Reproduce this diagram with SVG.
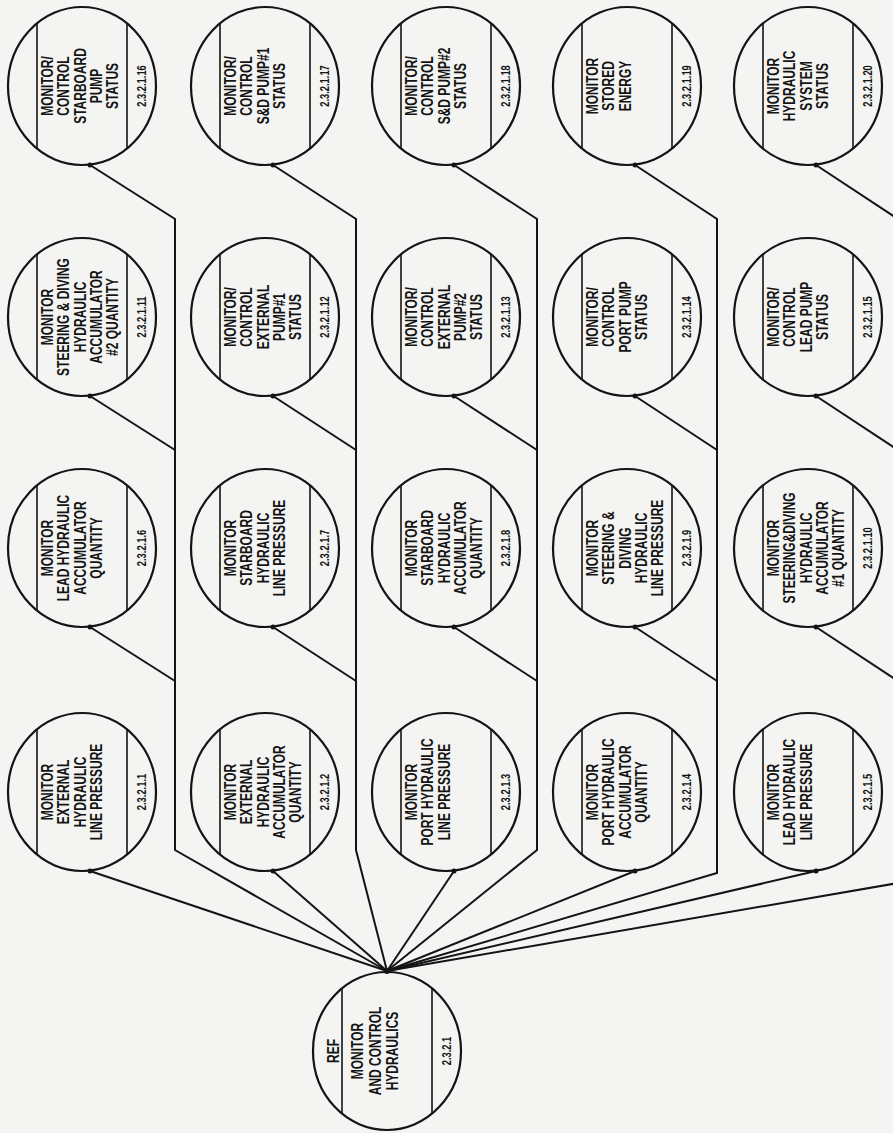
<svg xmlns="http://www.w3.org/2000/svg" width="893" height="1133" viewBox="0 0 893 1133">
<style>
.bg{fill:#f4f4f2}
.c{fill:none;stroke:#141414;stroke-width:2.2}
.ch{stroke:#141414;stroke-width:1.6}
.k{fill:none;stroke:#141414;stroke-width:2;stroke-linejoin:miter}
.d{fill:#141414}
.t{font-family:"Liberation Sans",Arial,sans-serif;font-weight:bold;font-size:16px;fill:#141414;text-anchor:middle}
.n{font-family:"Liberation Sans",Arial,sans-serif;font-weight:bold;font-size:12.5px;fill:#141414;text-anchor:middle}
</style>
<defs>
<g id="shape">
<ellipse rx="74" ry="79" class="c"/>
<line x1="-45" y1="-63" x2="-45" y2="63" class="ch"/>
<line x1="45" y1="-63" x2="45" y2="63" class="ch"/>
</g>
</defs>
<rect class="bg" x="0" y="0" width="893" height="1133"/>

<g id="connectors">
<!-- trunks with top-row branch -->
<path class="k" d="M90,165 L175,219 V850 L387,971"/>
<path class="k" d="M273,165 L356,219 V850 L387,971"/>
<path class="k" d="M454,165 L537,219 V850 L387,971"/>
<path class="k" d="M635,165 L717,219 V873 L387,971"/>
<path class="k" d="M816,165 L898,219 V883 L387,971"/>
<!-- row 3 branches -->
<path class="k" d="M90,396 L175,450"/>
<path class="k" d="M273,396 L356,450"/>
<path class="k" d="M454,396 L537,450"/>
<path class="k" d="M635,396 L717,450"/>
<path class="k" d="M816,396 L898,450"/>
<!-- row 2 branches -->
<path class="k" d="M90,627 L175,681"/>
<path class="k" d="M273,627 L356,681"/>
<path class="k" d="M454,627 L537,681"/>
<path class="k" d="M635,627 L717,681"/>
<path class="k" d="M816,627 L898,681"/>
<!-- row 1 direct -->
<path class="k" d="M90,871 L387,971"/>
<path class="k" d="M273,871 L387,971"/>
<path class="k" d="M454,871 L387,971"/>
<path class="k" d="M635,871 L387,971"/>
<path class="k" d="M816,871 L387,971"/>
<!-- junction dots -->
<circle class="d" cx="90" cy="165" r="2.5"/><circle class="d" cx="273" cy="165" r="2.5"/><circle class="d" cx="454" cy="165" r="2.5"/><circle class="d" cx="635" cy="165" r="2.5"/><circle class="d" cx="816" cy="165" r="2.5"/>
<circle class="d" cx="90" cy="396" r="2.5"/><circle class="d" cx="273" cy="396" r="2.5"/><circle class="d" cx="454" cy="396" r="2.5"/><circle class="d" cx="635" cy="396" r="2.5"/><circle class="d" cx="816" cy="396" r="2.5"/>
<circle class="d" cx="90" cy="627" r="2.5"/><circle class="d" cx="273" cy="627" r="2.5"/><circle class="d" cx="454" cy="627" r="2.5"/><circle class="d" cx="635" cy="627" r="2.5"/><circle class="d" cx="816" cy="627" r="2.5"/>
<circle class="d" cx="90" cy="871" r="2.5"/><circle class="d" cx="273" cy="871" r="2.5"/><circle class="d" cx="454" cy="871" r="2.5"/><circle class="d" cx="635" cy="871" r="2.5"/><circle class="d" cx="816" cy="871" r="2.5"/>
<circle class="d" cx="387" cy="971" r="3"/>
</g>

<g id="root" transform="translate(387,1051)">
<use href="#shape"/>
<text class="t" transform="rotate(-90) scale(0.75,1)"><tspan x="0" y="-48">REF</tspan></text>
<text class="t" transform="rotate(-90) scale(0.75,1)"><tspan x="0" y="-24">MONITOR</tspan><tspan x="0" y="-6">AND CONTROL</tspan><tspan x="0" y="11">HYDRAULICS</tspan></text>
<text class="n" transform="rotate(-90) scale(0.75,1)" x="0" y="64">2.3.2.1</text>
</g>

<g id="n1" transform="translate(82,792)">
<use href="#shape"/>
<text class="t" transform="rotate(-90) scale(0.75,1)"><tspan x="0" y="-29">MONITOR</tspan><tspan x="0" y="-13">EXTERNAL</tspan><tspan x="0" y="4">HYDRAULIC</tspan><tspan x="0" y="20">LINE PRESSURE</tspan></text>
<text class="n" transform="rotate(-90) scale(0.75,1)" x="0" y="64">2.3.2.1.1</text>
</g>
<g id="n2" transform="translate(265,792)">
<use href="#shape"/>
<text class="t" transform="rotate(-90) scale(0.75,1)"><tspan x="0" y="-29">MONITOR</tspan><tspan x="0" y="-13">EXTERNAL</tspan><tspan x="0" y="4">HYDRAULIC</tspan><tspan x="0" y="20">ACCUMULATOR</tspan><tspan x="0" y="36">QUANTITY</tspan></text>
<text class="n" transform="rotate(-90) scale(0.75,1)" x="0" y="64">2.3.2.1.2</text>
</g>
<g id="n3" transform="translate(446,792)">
<use href="#shape"/>
<text class="t" transform="rotate(-90) scale(0.75,1)"><tspan x="0" y="-29">MONITOR</tspan><tspan x="0" y="-13">PORT HYDRAULIC</tspan><tspan x="0" y="4">LINE PRESSURE</tspan></text>
<text class="n" transform="rotate(-90) scale(0.75,1)" x="0" y="64">2.3.2.1.3</text>
</g>
<g id="n4" transform="translate(627,792)">
<use href="#shape"/>
<text class="t" transform="rotate(-90) scale(0.75,1)"><tspan x="0" y="-29">MONITOR</tspan><tspan x="0" y="-13">PORT HYDRAULIC</tspan><tspan x="0" y="4">ACCUMULATOR</tspan><tspan x="0" y="20">QUANTITY</tspan></text>
<text class="n" transform="rotate(-90) scale(0.75,1)" x="0" y="64">2.3.2.1.4</text>
</g>
<g id="n5" transform="translate(808,792)">
<use href="#shape"/>
<text class="t" transform="rotate(-90) scale(0.75,1)"><tspan x="0" y="-29">MONITOR</tspan><tspan x="0" y="-13">LEAD HYDRAULIC</tspan><tspan x="0" y="4">LINE PRESSURE</tspan></text>
<text class="n" transform="rotate(-90) scale(0.75,1)" x="0" y="64">2.3.2.1.5</text>
</g>

<g id="n6" transform="translate(82,548)">
<use href="#shape"/>
<text class="t" transform="rotate(-90) scale(0.75,1)"><tspan x="0" y="-29">MONITOR</tspan><tspan x="0" y="-13">LEAD HYDRAULIC</tspan><tspan x="0" y="4">ACCUMULATOR</tspan><tspan x="0" y="20">QUANTITY</tspan></text>
<text class="n" transform="rotate(-90) scale(0.75,1)" x="0" y="64">2.3.2.1.6</text>
</g>
<g id="n7" transform="translate(265,548)">
<use href="#shape"/>
<text class="t" transform="rotate(-90) scale(0.75,1)"><tspan x="0" y="-29">MONITOR</tspan><tspan x="0" y="-13">STARBOARD</tspan><tspan x="0" y="4">HYDRAULIC</tspan><tspan x="0" y="20">LINE PRESSURE</tspan></text>
<text class="n" transform="rotate(-90) scale(0.75,1)" x="0" y="64">2.3.2.1.7</text>
</g>
<g id="n8" transform="translate(446,548)">
<use href="#shape"/>
<text class="t" transform="rotate(-90) scale(0.75,1)"><tspan x="0" y="-29">MONITOR</tspan><tspan x="0" y="-13">STARBOARD</tspan><tspan x="0" y="4">HYDRAULIC</tspan><tspan x="0" y="20">ACCUMULATOR</tspan><tspan x="0" y="36">QUANTITY</tspan></text>
<text class="n" transform="rotate(-90) scale(0.75,1)" x="0" y="64">2.3.2.1.8</text>
</g>
<g id="n9" transform="translate(627,548)">
<use href="#shape"/>
<text class="t" transform="rotate(-90) scale(0.75,1)"><tspan x="0" y="-29">MONITOR</tspan><tspan x="0" y="-13">STEERING &amp;</tspan><tspan x="0" y="4">DIVING</tspan><tspan x="0" y="20">HYDRAULIC</tspan><tspan x="0" y="36">LINE PRESSURE</tspan></text>
<text class="n" transform="rotate(-90) scale(0.75,1)" x="0" y="64">2.3.2.1.9</text>
</g>
<g id="n10" transform="translate(808,548)">
<use href="#shape"/>
<text class="t" transform="rotate(-90) scale(0.75,1)"><tspan x="0" y="-29">MONITOR</tspan><tspan x="0" y="-13">STEERING&amp;DIVING</tspan><tspan x="0" y="4">HYDRAULIC</tspan><tspan x="0" y="20">ACCUMULATOR</tspan><tspan x="0" y="36">#1 QUANTITY</tspan></text>
<text class="n" transform="rotate(-90) scale(0.75,1)" x="0" y="64">2.3.2.1.10</text>
</g>

<g id="n11" transform="translate(82,317)">
<use href="#shape"/>
<text class="t" transform="rotate(-90) scale(0.75,1)"><tspan x="0" y="-29">MONITOR</tspan><tspan x="0" y="-13">STEERING &amp; DIVING</tspan><tspan x="0" y="4">HYDRAULIC</tspan><tspan x="0" y="20">ACCUMULATOR</tspan><tspan x="0" y="36">#2 QUANTITY</tspan></text>
<text class="n" transform="rotate(-90) scale(0.75,1)" x="0" y="64">2.3.2.1.11</text>
</g>
<g id="n12" transform="translate(265,317)">
<use href="#shape"/>
<text class="t" transform="rotate(-90) scale(0.75,1)"><tspan x="0" y="-29">MONITOR/</tspan><tspan x="0" y="-13">CONTROL</tspan><tspan x="0" y="4">EXTERNAL</tspan><tspan x="0" y="20">PUMP#1</tspan><tspan x="0" y="36">STATUS</tspan></text>
<text class="n" transform="rotate(-90) scale(0.75,1)" x="0" y="64">2.3.2.1.12</text>
</g>
<g id="n13" transform="translate(446,317)">
<use href="#shape"/>
<text class="t" transform="rotate(-90) scale(0.75,1)"><tspan x="0" y="-29">MONITOR/</tspan><tspan x="0" y="-13">CONTROL</tspan><tspan x="0" y="4">EXTERNAL</tspan><tspan x="0" y="20">PUMP#2</tspan><tspan x="0" y="36">STATUS</tspan></text>
<text class="n" transform="rotate(-90) scale(0.75,1)" x="0" y="64">2.3.2.1.13</text>
</g>
<g id="n14" transform="translate(627,317)">
<use href="#shape"/>
<text class="t" transform="rotate(-90) scale(0.75,1)"><tspan x="0" y="-29">MONITOR/</tspan><tspan x="0" y="-13">CONTROL</tspan><tspan x="0" y="4">PORT PUMP</tspan><tspan x="0" y="20">STATUS</tspan></text>
<text class="n" transform="rotate(-90) scale(0.75,1)" x="0" y="64">2.3.2.1.14</text>
</g>
<g id="n15" transform="translate(808,317)">
<use href="#shape"/>
<text class="t" transform="rotate(-90) scale(0.75,1)"><tspan x="0" y="-29">MONITOR/</tspan><tspan x="0" y="-13">CONTROL</tspan><tspan x="0" y="4">LEAD PUMP</tspan><tspan x="0" y="20">STATUS</tspan></text>
<text class="n" transform="rotate(-90) scale(0.75,1)" x="0" y="64">2.3.2.1.15</text>
</g>

<g id="n16" transform="translate(82,86)">
<use href="#shape"/>
<text class="t" transform="rotate(-90) scale(0.75,1)"><tspan x="0" y="-29">MONITOR/</tspan><tspan x="0" y="-13">CONTROL</tspan><tspan x="0" y="4">STARBOARD</tspan><tspan x="0" y="20">PUMP</tspan><tspan x="0" y="36">STATUS</tspan></text>
<text class="n" transform="rotate(-90) scale(0.75,1)" x="0" y="64">2.3.2.1.16</text>
</g>
<g id="n17" transform="translate(265,86)">
<use href="#shape"/>
<text class="t" transform="rotate(-90) scale(0.75,1)"><tspan x="0" y="-29">MONITOR/</tspan><tspan x="0" y="-13">CONTROL</tspan><tspan x="0" y="4">S&amp;D PUMP#1</tspan><tspan x="0" y="20">STATUS</tspan></text>
<text class="n" transform="rotate(-90) scale(0.75,1)" x="0" y="64">2.3.2.1.17</text>
</g>
<g id="n18" transform="translate(446,86)">
<use href="#shape"/>
<text class="t" transform="rotate(-90) scale(0.75,1)"><tspan x="0" y="-29">MONITOR/</tspan><tspan x="0" y="-13">CONTROL</tspan><tspan x="0" y="4">S&amp;D PUMP#2</tspan><tspan x="0" y="20">STATUS</tspan></text>
<text class="n" transform="rotate(-90) scale(0.75,1)" x="0" y="64">2.3.2.1.18</text>
</g>
<g id="n19" transform="translate(627,86)">
<use href="#shape"/>
<text class="t" transform="rotate(-90) scale(0.75,1)"><tspan x="0" y="-29">MONITOR</tspan><tspan x="0" y="-13">STORED</tspan><tspan x="0" y="4">ENERGY</tspan></text>
<text class="n" transform="rotate(-90) scale(0.75,1)" x="0" y="64">2.3.2.1.19</text>
</g>
<g id="n20" transform="translate(808,86)">
<use href="#shape"/>
<text class="t" transform="rotate(-90) scale(0.75,1)"><tspan x="0" y="-29">MONITOR</tspan><tspan x="0" y="-13">HYDRAULIC</tspan><tspan x="0" y="4">SYSTEM</tspan><tspan x="0" y="20">STATUS</tspan></text>
<text class="n" transform="rotate(-90) scale(0.75,1)" x="0" y="64">2.3.2.1.20</text>
</g>
</svg>
